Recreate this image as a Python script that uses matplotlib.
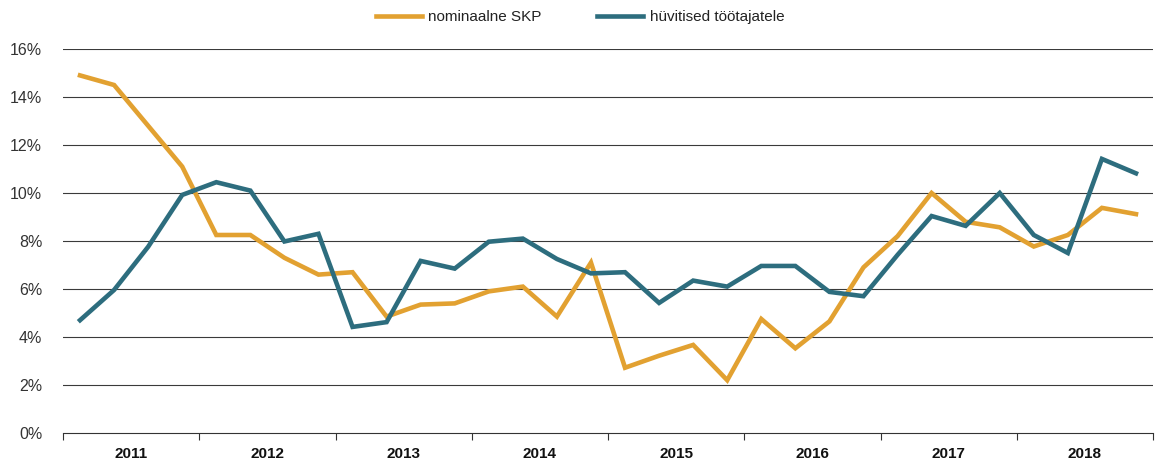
import matplotlib
matplotlib.use("Agg")
import matplotlib.pyplot as plt
from matplotlib.ticker import FixedLocator, NullFormatter

plt.rcParams['font.family'] = ['Liberation Sans', 'DejaVu Sans']

years = ["2011", "2012", "2013", "2014", "2015", "2016", "2017", "2018"]
series_names = ["nominaalne SKP", "hüvitised töötajatele"]

nominal_gdp = [14.9, 14.5, 12.8, 11.1, 8.25, 8.25, 7.3, 6.6,
               6.7, 4.85, 5.35, 5.4, 5.9, 6.1, 4.85, 7.1,
               2.72, 3.22, 3.67, 2.2, 4.75, 3.53, 4.65, 6.9,
               8.2, 10.0, 8.8, 8.57, 7.77, 8.25, 9.38, 9.12]
compensation = [4.7, 5.96, 7.76, 9.92, 10.45, 10.1, 7.98, 8.3,
                4.42, 4.62, 7.17, 6.85, 7.97, 8.1, 7.25, 6.65,
                6.7, 5.42, 6.35, 6.1, 6.96, 6.96, 5.88, 5.7,
                7.42, 9.04, 8.63, 10.0, 8.25, 7.5, 11.42, 10.82]

colors = ["#E2A131", "#2D6D7E"]

fig = plt.figure(figsize=(11.62, 4.63), dpi=100)
ax = fig.add_axes([63/1162, 30/463, 1090/1162, 384/463])

x = list(range(len(nominal_gdp)))
ax.plot(x, nominal_gdp, color=colors[0], lw=3.3, label=series_names[0],
        solid_joinstyle='miter', zorder=3)
ax.plot(x, compensation, color=colors[1], lw=3.3, label=series_names[1],
        solid_joinstyle='miter', zorder=4)

ax.set_xlim(-0.5, len(x) - 0.5)
ax.set_ylim(0, 16)

yt = list(range(0, 17, 2))
ax.set_yticks(yt)
ax.set_yticklabels([f"{v}%" for v in yt], fontsize=11.5, color="#333333")
ax.tick_params(axis='y', length=0, pad=15)
for v in yt[1:]:
    ax.axhline(v, color="#3a3a3a", lw=0.8, zorder=1)

bounds = [i * 4 - 0.5 for i in range(len(years) + 1)]
ax.xaxis.set_major_locator(FixedLocator(bounds))
ax.xaxis.set_major_formatter(NullFormatter())
ax.tick_params(axis='x', direction='out', length=5, width=0.8, color="#333333")
ax.xaxis.set_minor_locator(FixedLocator([i * 4 + 1.5 for i in range(len(years))]))
ax.set_xticklabels(years, minor=True, fontsize=11, fontweight='bold', color="#111111")
ax.tick_params(axis='x', which='minor', length=0, pad=10)

for s in ['top', 'right', 'left']:
    ax.spines[s].set_visible(False)
ax.spines['bottom'].set_color("#333333")
ax.spines['bottom'].set_linewidth(0.8)

fig.legend(loc='center', bbox_to_anchor=(580/1162, 1 - 17/463), ncol=2,
           frameon=False, fontsize=11, handlelength=3.0, handletextpad=0.45,
           columnspacing=3.6, labelcolor="#222222")

fig.savefig("out.png", dpi=100)
